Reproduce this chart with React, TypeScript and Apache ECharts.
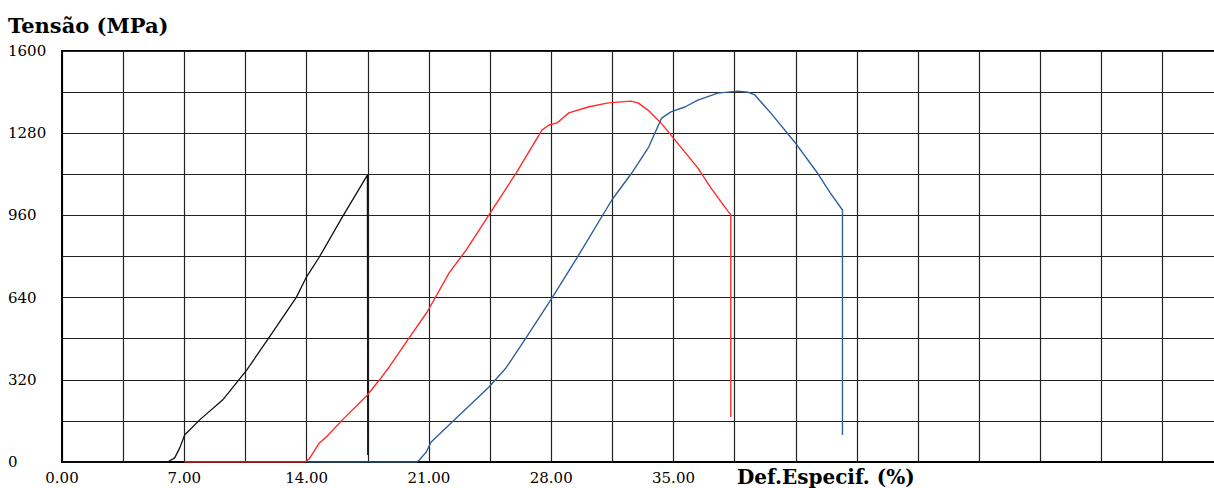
import React, { useEffect, useRef } from "react";
import * as echarts from "echarts";

// Tick labels
const xTickLabels = ["0.00", "7.00", "14.00", "21.00", "28.00", "35.00"];
const yTickLabels = ["0", "320", "640", "960", "1280", "1600"];

// Black specimen
const blackStrain = [0, 6.05, 6.45, 6.74, 7.02, 7.88, 9.19, 10.57, 11.76, 13.42, 13.99, 14.73, 16.05, 17.48, 17.5];
const blackStress = [0, 0, 16, 55, 105, 164, 241, 358, 475, 642, 720, 798, 954, 1117, 27];

// Red specimen
const redStrain = [7.0, 13.9, 14.15, 14.73, 15.13, 16.05, 17.48, 18.16, 18.73, 19.87, 20.9, 22.16, 23.13, 24.44, 25.99, 27.47, 27.87, 28.33, 29.01, 30.12, 31.26, 32.57, 32.97, 33.54, 34.28, 35.08, 36.39, 37.14, 37.93, 38.28, 38.28];
const redStress = [0, 0, 12, 74, 97, 164, 261, 319, 370, 483, 584, 736, 825, 962, 1125, 1292, 1312, 1320, 1359, 1382, 1398, 1405, 1398, 1370, 1320, 1254, 1145, 1067, 993, 962, 175];

// Blue specimen
const blueStrain = [14.0, 20.3, 20.45, 20.85, 21.13, 22.33, 24.44, 25.41, 26.56, 28.04, 29.58, 31.47, 32.61, 33.58, 34.32, 34.85, 35.65, 36.39, 37.54, 38.68, 39.25, 39.65, 40.56, 41.93, 43.24, 43.98, 44.67, 44.67];
const blueStress = [0, 0, 8, 39, 78, 156, 292, 366, 483, 638, 806, 1020, 1125, 1226, 1339, 1363, 1382, 1409, 1436, 1444, 1440, 1429, 1359, 1246, 1125, 1047, 981, 105];

const zip = (xs: number[], ys: number[]) => xs.map((x, i) => [x, ys[i]]);

export default function App() {
  const ref = useRef<HTMLDivElement>(null);
  useEffect(() => {
    document.body.style.margin = "0";
    document.body.style.overflow = "hidden";
    const chart = echarts.init(ref.current!, undefined, { renderer: "svg" });
    const serif = "DejaVu Serif";
    chart.setOption({
      animation: false,
      backgroundColor: "#ffffff",
      grid: {
        left: 62,
        top: 51,
        bottom: 26,
        right: 0,
        show: true,
        borderColor: "#000",
        borderWidth: 2,
      },
      graphic: [
        {
          type: "text",
          x: 8,
          y: 25,
          style: {
            text: "Tensão (MPa)",
            font: `bold 21px "${serif}"`,
            fill: "#000",
            verticalAlign: "middle",
          },
        },
        {
          type: "text",
          x: 737,
          y: 477,
          style: {
            text: "Def.Especif. (%)",
            font: `bold 20px "${serif}"`,
            fill: "#000",
            verticalAlign: "middle",
          },
        },
      ],
      xAxis: {
        type: "value",
        min: 0,
        max: 70,
        interval: 3.5,
        axisLine: { show: true, onZero: false, lineStyle: { color: "#000", width: 2 } },
        axisTick: { show: false },
        splitLine: { show: true, lineStyle: { color: "#222", width: 1.2 } },
        axisLabel: {
          margin: 8,
          fontFamily: serif,
          fontSize: 15,
          color: "#000",
          formatter: (v: number) => {
            const s = v.toFixed(2);
            return xTickLabels.includes(s) ? s : "";
          },
        },
      },
      yAxis: {
        type: "value",
        min: 0,
        max: 1600,
        interval: 160,
        axisLine: { show: true, lineStyle: { color: "#000", width: 2 } },
        axisTick: { show: false },
        splitLine: { show: true, lineStyle: { color: "#222", width: 1.2 } },
        axisLabel: {
          align: "left",
          margin: 54,
          fontFamily: serif,
          fontSize: 15,
          color: "#000",
          formatter: (v: number) => {
            const s = String(Math.round(v));
            return yTickLabels.includes(s) ? s : "";
          },
        },
      },
      series: [
        {
          type: "line",
          data: zip(blackStrain, blackStress),
          showSymbol: false,
          lineStyle: { color: "#111", width: 1.3 },
        },
        {
          type: "line",
          data: zip(redStrain, redStress),
          showSymbol: false,
          lineStyle: { color: "#ff2a2a", width: 1.4 },
        },
        {
          type: "line",
          data: zip(blueStrain, blueStress),
          showSymbol: false,
          lineStyle: { color: "#2f5f9c", width: 1.4 },
        },
      ],
    });
    return () => chart.dispose();
  }, []);
  return (
    <div style={{ width: 1214, height: 488, overflow: "hidden" }}>
      <div ref={ref} style={{ width: 1288, height: 488 }} />
    </div>
  );
}
